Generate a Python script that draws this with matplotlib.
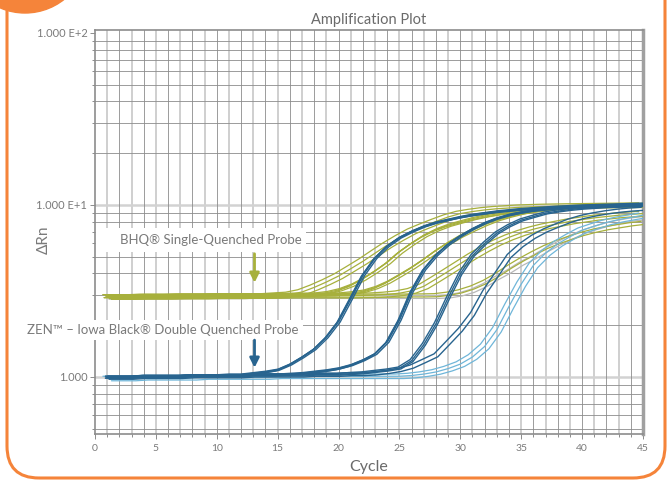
import numpy as np
import matplotlib
matplotlib.use("Agg")
import matplotlib.pyplot as plt
from matplotlib.patches import FancyBboxPatch, Circle, Rectangle
from matplotlib.transforms import IdentityTransform
from matplotlib.ticker import FixedLocator, NullFormatter

plt.rcParams['font.family'] = ['Lato', 'DejaVu Sans']

# cycles 1..45
cycles = np.arange(1, 46)

# ZEN (double quenched) groups, dark blue
zen_1 = [1.00, 1.00, 1.00, 1.01, 1.01, 1.01, 1.01, 1.02, 1.02, 1.02,
         1.03, 1.03, 1.05, 1.07, 1.10, 1.18, 1.30, 1.45, 1.70, 2.10,
         2.85, 3.90, 4.90, 5.75, 6.45, 7.00, 7.50, 7.90, 8.20, 8.50,
         8.75, 8.95, 9.15, 9.30, 9.45, 9.55, 9.65, 9.75, 9.82, 9.90,
         9.95, 10.0, 10.05, 10.1, 10.15]
zen_2 = [1.00, 1.00, 1.00, 1.01, 1.01, 1.01, 1.01, 1.02, 1.02, 1.02,
         1.02, 1.02, 1.03, 1.03, 1.03, 1.04, 1.05, 1.07, 1.09, 1.12,
         1.17, 1.25, 1.36, 1.60, 2.15, 3.15, 4.20, 5.10, 5.90, 6.60,
         7.25, 7.85, 8.35, 8.75, 9.05, 9.30, 9.45, 9.60, 9.70, 9.80,
         9.85, 9.90, 9.95, 10.0, 10.05]
zen_3 = [1.00, 1.00, 1.00, 1.01, 1.01, 1.01, 1.01, 1.02, 1.02, 1.02,
         1.02, 1.02, 1.03, 1.03, 1.03, 1.03, 1.03, 1.04, 1.04, 1.04,
         1.05, 1.06, 1.08, 1.10, 1.13, 1.25, 1.55, 2.05, 2.90, 4.00,
         5.10, 6.00, 6.90, 7.60, 8.20, 8.60, 9.00, 9.25, 9.45, 9.60,
         9.70, 9.80, 9.85, 9.90, 9.95]
zen_4 = [1.00, 1.00, 1.00, 1.01, 1.01, 1.01, 1.01, 1.02, 1.02, 1.02,
         1.02, 1.02, 1.03, 1.03, 1.03, 1.03, 1.03, 1.04, 1.04, 1.04,
         1.05, 1.05, 1.06, 1.08, 1.11, 1.16, 1.25, 1.35, 1.60, 1.90,
         2.35, 3.15, 4.00, 5.10, 5.90, 6.60, 7.20, 7.70, 8.20, 8.60,
         8.90, 9.15, 9.35, 9.50, 9.60]
zen_5 = [0.99, 0.99, 0.99, 1.00, 1.00, 1.00, 1.00, 1.00, 1.01, 1.01,
         1.01, 1.01, 1.01, 1.01, 1.02, 1.02, 1.02, 1.02, 1.02, 1.02,
         1.02, 1.02, 1.02, 1.02, 1.02, 1.03, 1.05, 1.08, 1.13, 1.20,
         1.32, 1.52, 1.90, 2.60, 3.50, 4.50, 5.30, 6.00, 6.60, 7.20,
         7.60, 8.00, 8.30, 8.55, 8.80]

# BHQ (single quenched) groups, olive green
bhq_1 = [2.95, 2.95, 2.95, 2.96, 2.96, 2.96, 2.97, 2.97, 2.97, 2.98,
         2.98, 2.98, 2.99, 2.99, 3.02, 3.05, 3.15, 3.35, 3.60, 3.90,
         4.30, 4.75, 5.30, 5.90, 6.50, 7.10, 7.60, 8.10, 8.60, 9.00,
         9.25, 9.45, 9.60, 9.70, 9.80, 9.85, 9.90, 9.93, 9.96, 9.98,
         10.0, 10.02, 10.04, 10.06, 10.08]
bhq_2 = [2.95, 2.95, 2.95, 2.96, 2.96, 2.96, 2.97, 2.97, 2.97, 2.98,
         2.98, 2.98, 2.99, 2.99, 2.99, 3.00, 3.00, 3.02, 3.08, 3.20,
         3.40, 3.70, 4.10, 4.60, 5.30, 5.95, 6.60, 7.15, 7.60, 7.95,
         8.30, 8.60, 8.85, 9.05, 9.25, 9.40, 9.55, 9.65, 9.75, 9.82,
         9.88, 9.93, 9.97, 10.0, 10.02]
bhq_3 = [2.95, 2.95, 2.95, 2.96, 2.96, 2.96, 2.97, 2.97, 2.97, 2.98,
         2.98, 2.98, 2.99, 2.99, 2.99, 3.00, 3.00, 3.00, 3.01, 3.02,
         3.07, 3.14, 3.30, 3.55, 3.90, 4.30, 4.80, 5.40, 6.00, 6.60,
         7.15, 7.70, 8.20, 8.60, 8.95, 9.20, 9.40, 9.55, 9.65, 9.75,
         9.82, 9.88, 9.92, 9.96, 10.0]
bhq_4 = [2.95, 2.95, 2.95, 2.96, 2.96, 2.96, 2.97, 2.97, 2.97, 2.98,
         2.98, 2.98, 2.99, 2.99, 2.99, 3.00, 3.00, 3.00, 3.00, 3.00,
         3.00, 3.01, 3.02, 3.05, 3.10, 3.20, 3.40, 3.75, 4.15, 4.60,
         5.10, 5.60, 6.10, 6.55, 6.95, 7.30, 7.60, 7.85, 8.10, 8.30,
         8.50, 8.65, 8.80, 8.90, 9.00]
bhq_5 = [2.95, 2.95, 2.95, 2.96, 2.96, 2.96, 2.97, 2.97, 2.97, 2.98,
         2.98, 2.98, 2.99, 2.99, 2.99, 3.00, 3.00, 3.00, 3.00, 3.00,
         3.00, 3.00, 3.00, 3.00, 3.00, 3.01, 3.01, 3.02, 3.08, 3.18,
         3.35, 3.60, 3.95, 4.40, 4.85, 5.30, 5.75, 6.15, 6.50, 6.85,
         7.15, 7.40, 7.60, 7.80, 7.95]
# no-template control, grey
ntc = [2.92, 2.92, 2.92, 2.93, 2.93, 2.93, 2.93, 2.94, 2.94, 2.94,
       2.94, 2.94, 2.95, 2.95, 2.95, 2.95, 2.95, 2.95, 2.95, 2.95,
       2.95, 2.95, 2.95, 2.95, 2.95, 2.95, 2.95, 2.95, 2.97, 3.05,
       3.20, 3.45, 3.80, 4.15, 4.60, 5.00, 5.50, 6.00, 6.50, 7.00,
       7.40, 7.75, 8.05, 8.30, 8.45]

# replicate wells: cycle offset and signal factor
zen_shift_4 = [-0.14, -0.05, 0.05, 0.14]
zen_scale_4 = [0.985, 1.00, 1.01, 0.995]
zen_shift_3 = [-0.12, 0.0, 0.12]
zen_scale_3 = [1.01, 0.995, 0.985]
rep_shift_4 = [-0.25, -0.08, 0.08, 0.25]
rep_scale_4 = [0.98, 1.00, 1.02, 0.99]
rep_shift_3 = [-0.35, 0.0, 0.35]
rep_scale_3 = [1.02, 0.99, 0.96]
rep_shift_2 = [-0.15, 0.15]
rep_scale_2 = [1.01, 0.97]

GREEN = '#a7b03c'
BLUE = '#28648f'
LBLUE = '#6fb6d9'
GREY = '#b8b8b8'
ORANGE = '#f5843a'
TXT = '#7a7a7a'

fig = plt.figure(figsize=(6.67, 4.8), dpi=100)
ax = fig.add_axes([0.1424, 0.0958, 0.8216, 0.8417])


def draw_group(vals, shifts, scales, color, z, lw=0.9):
    vals = np.array(vals)
    for s, k in zip(shifts, scales):
        ax.plot(cycles + s, vals * k, color=color, lw=lw, zorder=z,
                solid_capstyle='round', solid_joinstyle='round')


draw_group(ntc, rep_shift_2, rep_scale_2, GREY, 2)
draw_group(bhq_1, rep_shift_3, rep_scale_3, GREEN, 3)
draw_group(bhq_2, rep_shift_4, rep_scale_4, GREEN, 3)
draw_group(bhq_3, rep_shift_4, rep_scale_4, GREEN, 3)
draw_group(bhq_4, rep_shift_3, rep_scale_3, GREEN, 3)
draw_group(bhq_5, rep_shift_2, rep_scale_2, GREEN, 3)
draw_group(zen_5, rep_shift_3, rep_scale_3, LBLUE, 4)
draw_group(zen_1, zen_shift_4, zen_scale_4, BLUE, 5, lw=1.0)
draw_group(zen_2, zen_shift_4, zen_scale_4, BLUE, 5, lw=1.0)
draw_group(zen_3, zen_shift_3, zen_scale_3, BLUE, 5, lw=1.0)
draw_group(zen_4, rep_shift_2, rep_scale_2, BLUE, 5, lw=1.0)

ax.set_yscale('log')
ax.set_xlim(0, 45)
ax.set_ylim(0.466, 104)

# grid
for c in range(1, 45):
    if c % 2:
        ax.axvline(c, color='#cfcfcf', lw=1.4, zorder=0.5)
    else:
        ax.axvline(c, color='#8c8c8c', lw=0.6, zorder=0.6)
minor_y = [0.5, 0.6, 0.7, 0.8, 0.9, 2, 3, 4, 5, 6, 7, 8, 9, 20, 30, 40, 50, 60, 70, 80, 90]
for v in minor_y:
    ax.axhline(v, color='#8c8c8c', lw=0.6, zorder=0.6)
for v in [1, 10]:
    ax.axhline(v, color='#d2d2d2', lw=1.8, zorder=0.5)

ax.xaxis.set_major_locator(FixedLocator(range(0, 46, 5)))
ax.xaxis.set_minor_locator(FixedLocator(range(0, 46)))
ax.yaxis.set_major_locator(FixedLocator([1, 10, 100]))
ax.yaxis.set_minor_locator(FixedLocator(minor_y))
ax.yaxis.set_minor_formatter(NullFormatter())
ax.set_yticklabels(['1.000', '1.000 E+1', '1.000 E+2'])
ax.tick_params(which='both', direction='out', color='#8c8c8c', width=0.7, labelcolor=TXT)
ax.tick_params(which='major', length=3.5, labelsize=7.5)
ax.tick_params(which='minor', length=2.5)
ax.tick_params(axis='y', labelsize=8, pad=2)

for side in ['left', 'bottom', 'top']:
    ax.spines[side].set_color('#8c8c8c')
    ax.spines[side].set_linewidth(1.2)
ax.spines['right'].set_color('#a0a0a0')
ax.spines['right'].set_linewidth(2.5)

ax.set_title('Amplification Plot', fontsize=10.5, color='#6a6a6a', pad=4)
ax.set_xlabel('Cycle', fontsize=11.5, color='#6a6a6a', labelpad=5)
ax.set_ylabel('ΔRn', fontsize=11, color=TXT)
ax.yaxis.set_label_coords(-0.08, 0.48)

# labels with arrows
ax.add_patch(Rectangle((0, 5.33), 17.3, 2.02, facecolor='white', edgecolor='none', zorder=1))
ax.text(9.5, 6.26, 'BHQ® Single-Quenched Probe', ha='center', va='center',
        fontsize=9.5, color=TXT, zorder=6)
ax.text(5.6, 1.88, 'ZEN™ – Iowa Black® Double Quenched Probe', ha='center', va='center',
        fontsize=9.5, color=TXT, zorder=6, clip_on=False,
        bbox=dict(facecolor='white', edgecolor='none', pad=3))
ax.annotate('', xy=(13.1, 3.4), xytext=(13.1, 5.4),
            arrowprops=dict(arrowstyle='-|>', color=GREEN, lw=2, mutation_scale=14), zorder=7)
ax.annotate('', xy=(13.1, 1.09), xytext=(13.1, 1.7),
            arrowprops=dict(arrowstyle='-|>', color=BLUE, lw=2, mutation_scale=14), zorder=7)

# orange frame
frame = FancyBboxPatch((7, 2), 658, 600, boxstyle='round,pad=0,rounding_size=32',
                       fill=False, edgecolor=ORANGE, lw=2.2, transform=IdentityTransform())
fig.add_artist(frame)
fig.add_artist(Circle((25, 530), 63, color=ORANGE, transform=IdentityTransform()))

fig.savefig('out.png', dpi=100)
